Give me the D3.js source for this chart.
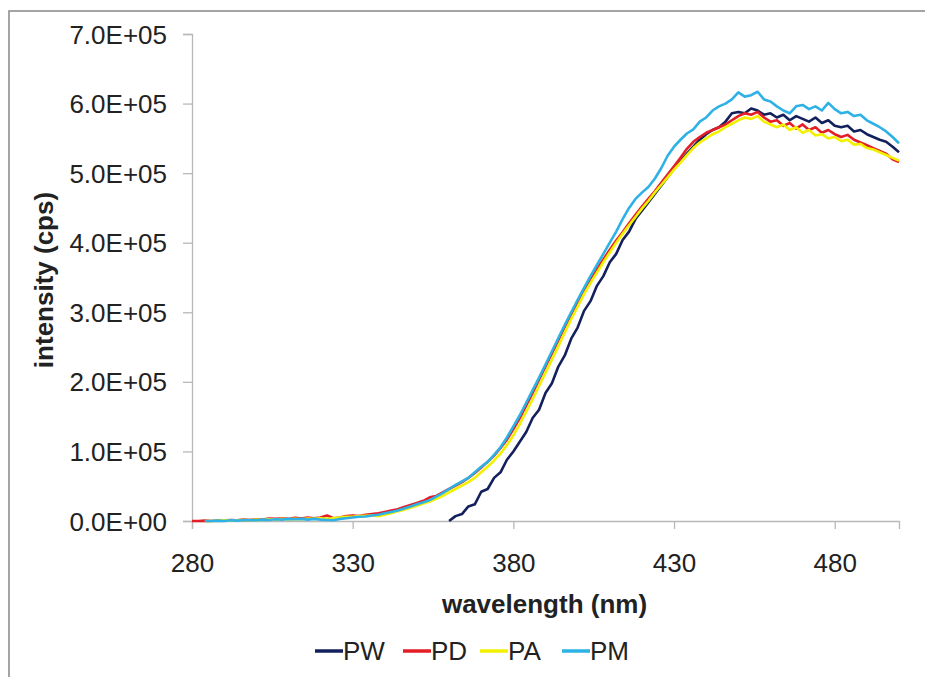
<!DOCTYPE html>
<html>
<head>
<meta charset="utf-8">
<script src="https://cdn.jsdelivr.net/npm/d3@7"></script>
<style>
  html, body { margin: 0; padding: 0; background: #ffffff; }
  svg { display: block; }
</style>
</head>
<body>
<svg id="chart" width="925" height="677"></svg>
<script>
// ---- data (intensity in thousands of cps) ----
const wavelengths = [280,282,284,286,288,290,292,294,296,298,300,302,304,306,308,310,312,314,316,318,320,322,324,326,328,330,332,334,336,338,340,342,344,346,348,350,352,354,356,358,360,362,364,366,368,370,372,374,376,378,380,382,384,386,388,390,392,394,396,398,400,402,404,406,408,410,412,414,416,418,420,422,424,426,428,430,432,434,436,438,440,442,444,446,448,450,452,454,456,458,460,462,464,466,468,470,472,474,476,478,480,482,484,486,488,490,492,494,496,498,500];

const seriesNames = ["PW", "PD", "PA", "PM"];
const seriesColors = ["#13205c", "#e41e26", "#f2f200", "#2eb2e6"];

const PW = [null,null,null,null,null,null,null,null,null,null,null,null,null,null,null,null,null,null,null,null,null,null,null,null,null,null,null,null,null,null,null,null,null,null,null,null,null,null,null,null,
  0,7,10,21,24,42,46,62,70,88,100,114,128,148,160,184,198,222,238,262,278,302,316,338,352,372,384,404,416,434,446,458,470,482,494,506,517,528,538,548,556,562,566,574,586,588,586,593,590,584,586,580,584,576,582,578,574,580,572,576,568,566,568,560,562,556,552,548,545,538,530];

const PD = [0,0,0.5,0,1,0.5,1.5,1,2,1.5,2.5,2,3.5,3,4,3,4.5,3.5,5,4,5,8,4,5,7,8,7,9,10,11,13,15,17,20,23,26,29,34,36,41,
  46,51,56,62,69,77,85,94,105,117,132,148,166,184,203,222,241,260,279,297,315,332,348,362,376,390,403,415,428,440,452,463,474,486,498,510,522,535,545,552,558,562,566,570,576,582,586,584,588,580,574,576,568,572,564,570,562,566,558,562,556,552,555,548,544,540,536,532,528,520,516];

const PA = [null,null,0,0,0.5,1,0.5,1,1.5,1,2,1.5,2.5,2,3,2.5,3,2.5,3.5,3,4,3,4,5,6,6,7,7.5,8,7,9,11,14,16,19,22,25,28,32,36,
  41,46,51,56,62,70,78,87,97,109,123,139,157,175,194,213,232,251,271,290,308,326,342,357,372,386,400,413,425,437,449,460,472,483,494,505,515,526,536,544,550,556,560,566,571,576,580,578,582,574,570,566,570,562,566,558,562,554,556,550,552,546,548,541,542,536,534,530,526,522,518];

const PM = [null,null,0,0,0.5,0,1,0.5,1,1.5,1,2,1.5,2.5,2,3,2.5,3,2,3,2,1.5,1,3,4,5,6,6.5,8,9,11,13,15,18,21,24,27,30,35,40,
  46,52,57,62,70,78,85,95,106,120,136,152,170,188,206,225,244,263,282,300,318,335,352,368,384,400,416,434,450,463,472,480,492,507,525,538,548,557,563,574,580,590,596,600,606,616,610,612,617,606,603,596,590,586,596,598,592,596,590,601,592,586,588,582,584,576,571,566,560,552,543];

const allSeries = [PW, PD, PA, PM];

const xTickValues = [280, 330, 380, 430, 480];
const yTickValues = [0, 100, 200, 300, 400, 500, 600, 700];
const xTitle = "wavelength (nm)";
const yTitle = "intensity (cps)";

// ---- layout ----
const svg = d3.select("#chart");
const plotLeft = 192, plotRight = 899, plotTop = 34, plotBottom = 521;
const font = "'Liberation Sans', Arial, sans-serif";
const textColor = "#222222";
const axisColor = "#b8b8b8";

// outer border (only top/left visible in frame)
svg.append("rect")
  .attr("x", 9).attr("y", 11).attr("width", 940).attr("height", 700)
  .attr("fill", "none").attr("stroke", "#8e8e8e").attr("stroke-width", 1.6);

const x = d3.scaleLinear().domain([280, 500]).range([plotLeft, plotRight]);
const y = d3.scaleLinear().domain([0, 700]).range([plotBottom, plotTop]);

const fmtY = v => {
  if (v === 0) return "0.0E+00";
  return (v * 1000).toExponential(1).replace("e+", "E+").replace(/E\+(\d)$/, "E+0$1");
};

// y axis
const yAxis = svg.append("g").attr("transform", `translate(${plotLeft},0)`)
  .call(d3.axisLeft(y).tickValues(yTickValues).tickSize(9).tickPadding(16).tickFormat(fmtY));
yAxis.select(".domain").attr("stroke", axisColor).attr("stroke-width", 1.3);
yAxis.selectAll(".tick line").attr("stroke", axisColor).attr("stroke-width", 1.3);
yAxis.selectAll(".tick text")
  .attr("font-family", font).attr("font-size", 26).attr("fill", textColor)
  .attr("dy", "0.35em");

// x axis
const xAxis = svg.append("g").attr("transform", `translate(0,${plotBottom})`)
  .call(d3.axisBottom(x).tickValues(xTickValues).tickSize(8).tickPadding(0).tickFormat(d3.format("d")));
xAxis.select(".domain").attr("stroke", axisColor).attr("stroke-width", 1.3);
xAxis.selectAll(".tick line").attr("stroke", axisColor).attr("stroke-width", 1.3);
xAxis.selectAll(".tick text")
  .attr("font-family", font).attr("font-size", 26).attr("fill", textColor)
  .attr("y", 51).attr("dy", 0);

// axis titles
svg.append("text")
  .attr("x", (plotLeft + plotRight) / 2 - 1).attr("y", 613)
  .attr("text-anchor", "middle")
  .attr("font-family", font).attr("font-size", 26).attr("font-weight", "bold")
  .attr("fill", textColor)
  .text(xTitle);

svg.append("text")
  .attr("transform", "translate(53,280) rotate(-90)")
  .attr("text-anchor", "middle")
  .attr("font-family", font).attr("font-size", 26).attr("font-weight", "bold")
  .attr("fill", textColor)
  .text(yTitle);

// lines
const line = d3.line()
  .defined(d => d[1] !== null)
  .x(d => x(d[0]))
  .y(d => y(d[1]));

allSeries.forEach((s, i) => {
  svg.append("path")
    .datum(wavelengths.map((w, j) => [w, s[j]]))
    .attr("fill", "none")
    .attr("stroke", seriesColors[i])
    .attr("stroke-width", 2.6)
    .attr("stroke-linejoin", "round")
    .attr("d", line);
});

// legend
const legendX = [315, 403, 480, 562];
const legendY = 651;
seriesNames.forEach((name, i) => {
  const g = svg.append("g").attr("transform", `translate(${legendX[i]},${legendY})`);
  g.append("line").attr("x1", 0).attr("x2", 28).attr("y1", 0).attr("y2", 0)
    .attr("stroke", seriesColors[i]).attr("stroke-width", 3.5);
  g.append("text").attr("x", 28).attr("y", 0).attr("dy", "0.36em")
    .attr("font-family", font).attr("font-size", 26).attr("fill", textColor)
    .text(name);
});
</script>
</body>
</html>
